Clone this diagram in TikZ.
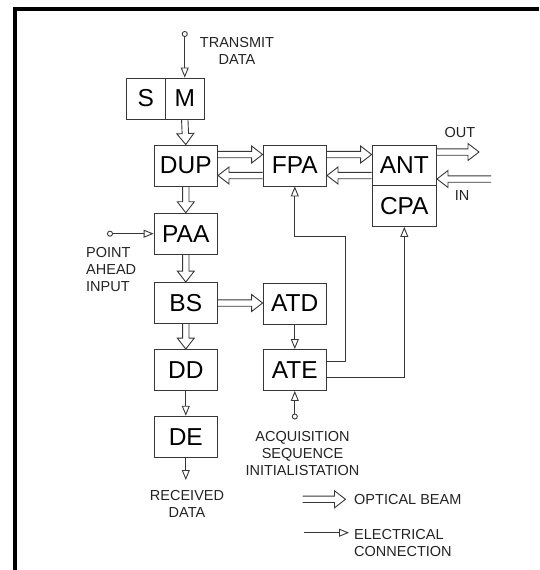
\documentclass[tikz,border=0pt]{standalone}
\usepackage{fontspec}
\setmainfont{Liberation Sans}
\definecolor{linegray}{RGB}{55, 55, 55}
\definecolor{textgray}{RGB}{35, 35, 35}
\usepackage{tikz}
\usetikzlibrary{arrows.meta, calc, positioning}
\tikzset{
	blk/.style={draw=linegray, line width=0.9pt, minimum width=63.5pt, minimum height=41pt,
		inner sep=0pt, font=\fontsize{24.5}{26}\selectfont},
	lbl/.style={font=\fontsize{14.5}{17}\selectfont, text=textgray, align=center, inner sep=0pt},
	elec/.style={draw=linegray, line width=0.9pt, -{Triangle[open, length=10pt, width=8pt]}},
	elecin/.style={elec, {Circle[open, length=6pt]}-{Triangle[open, length=10pt, width=8pt]}},
	optical/.style={draw=linegray, line width=0.9pt, line join=miter, to path={
		let \p1=(\tikztostart), \p2=(\tikztotarget),
		\n1={atan2(\y2-\y1,\x2-\x1)}, \n2={veclen(\x2-\x1,\y2-\y1)} in
		{[shift={(\p1)}, rotate=\n1]
			(0pt,3.2pt) -- (\n2-11pt,3.2pt) -- (\n2-11pt,8.5pt) -- (\n2-0pt,0pt)
			-- (\n2-11pt,-8.5pt) -- (\n2-11pt,-3.2pt) -- (0pt,-3.2pt)}
	}}
}
\begin{document}
\begin{tikzpicture}[x=1pt, y=-1pt]
	\useasboundingbox (0,0) rectangle (539,570);
	\draw[line width=4.5pt] (13,9) -- (539,9);
	\draw[line width=4pt] (15.3,7) -- (15.3,570);

	\node[blk, minimum width=38.5pt] (s) at (145.75,98.5) {S};
	\node[blk, minimum width=39.5pt] (m) at (184.75,98.5) {M};
	\node[blk] (dup) at (185.8,165.5) {DUP};
	\node[blk] (fpa) at (294.8,165.5) {FPA};
	\node[blk, minimum width=64.5pt, minimum height=40pt] (ant) at (404.3,165.5) {ANT};
	\node[blk, minimum width=64.5pt] (cpa) at (404.3,206) {CPA};
	\node[blk] (paa) at (185.8,233.7) {PAA};
	\node[blk] (bs) at (185.8,303) {BS};
	\node[blk] (atd) at (294.8,303.5) {ATD};
	\node[blk] (dd) at (185.8,370) {DD};
	\node[blk] (ate) at (294.8,370) {ATE};
	\node[blk] (de) at (185.8,436.7) {DE};

	\coordinate (txin) at (184.75,31);
	\coordinate (pain) at (107,233.7);
	\coordinate (acqin) at (294.8,419.5);
	\coordinate (rxout) at (185.8,480);
	\coordinate (out) at (479,152);
	\coordinate (in) at (491,179);
	\coordinate (fpabend) at (345.5,236.7);
	\coordinate (optA) at (302.5,499.3);
	\coordinate (optB) at (345.5,499.3);
	\coordinate (elA) at (304,532.7);
	\coordinate (elB) at (349,532.7);

	\draw[optical] (m.south) to (dup.north);
	\draw[optical] (dup.south) to (paa.north);
	\draw[optical] (paa.south) to (bs.north);
	\draw[optical] (bs.south) to (dd.north);
	\draw[optical] (bs.east) to (bs.east -| atd.west);
	\draw[optical] ([yshift=11pt]dup.east) to ([yshift=11pt]fpa.west);
	\draw[optical] ([yshift=-10pt]fpa.west) to ([yshift=-10pt]dup.east);
	\draw[optical] ([yshift=11pt]fpa.east) to ([yshift=11pt]ant.west);
	\draw[optical] ([yshift=-10pt]ant.west) to ([yshift=-10pt]fpa.east);
	\draw[optical] (ant.east |- out) to (out);
	\draw[optical] (in) to (ant.east |- in);
	\draw[optical] (optA) to (optB);

	\draw[elecin] (txin) -- (m.north);
	\draw[elecin] (pain) -- (paa.west);
	\draw[elecin] (acqin) -- (ate.south);
	\draw[elec] (atd.south) -- (ate.north);
	\draw[elec] (dd.south) -- (de.north);
	\draw[elec] (de.south) -- (rxout);
	\draw[elec] ([yshift=9pt]ate.east) -| (fpabend) -| (fpa.south);
	\draw[elec] ([yshift=-7.5pt]ate.east) -| (cpa.south);
	\draw[elec] (elA) -- (elB);

	\node[lbl] (txlbl) at (237,51) {TRANSMIT\\DATA};
	\node[lbl] (outlbl) at (460,133) {OUT};
	\node[lbl] (inlbl) at (462,196) {IN};
	\node[lbl, anchor=west, align=left] (palbl) at (86,270) {POINT\\AHEAD\\INPUT};
	\node[lbl] (rxlbl) at (187,504) {RECEIVED\\DATA};
	\node[lbl] (acqlbl) at (302.5,453.3) {ACQUISITION\\SEQUENCE\\INITIALISTATION};
	\node[lbl, anchor=west] (optlbl) at (354,499.5) {OPTICAL BEAM};
	\node[lbl, anchor=west, align=left] (ellbl) at (354,543) {ELECTRICAL\\CONNECTION};
\end{tikzpicture}
\end{document}
